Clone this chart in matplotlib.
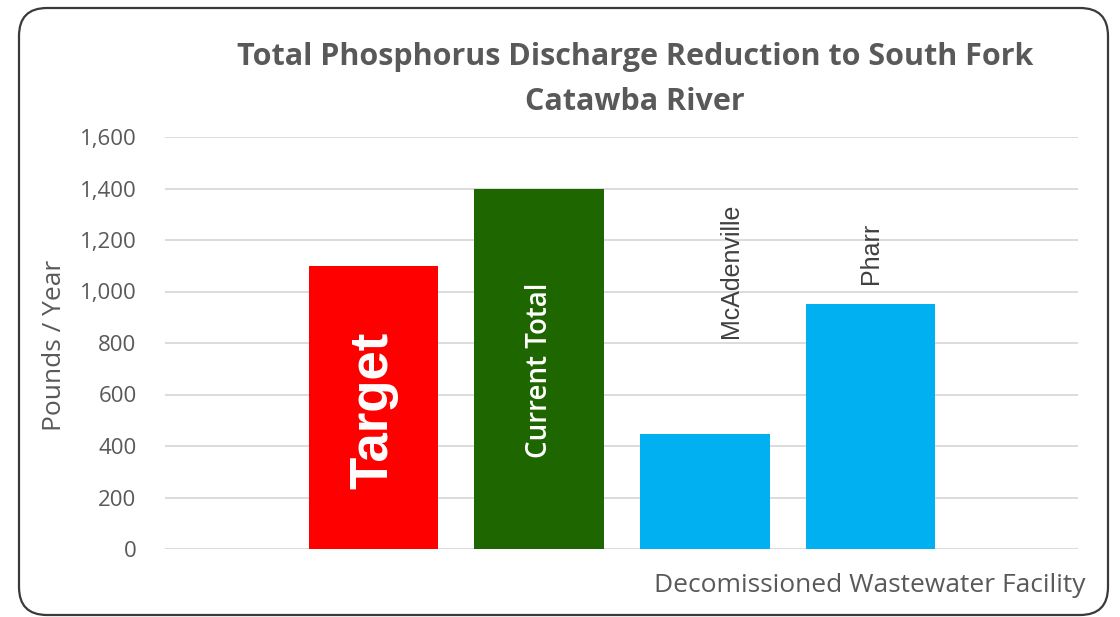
import matplotlib.pyplot as plt
from matplotlib.patches import FancyBboxPatch

# data
categories = ['Target', 'Current Total', 'McAdenville', 'Pharr']
values = [1100, 1400, 445, 952]
colors = ['#ff0000', '#1e6600', '#00b0f0', '#00b0f0']
label_y = [540, 695, 820, 1030]   # where each label sits (data units)

plt.rcParams['font.family'] = ['Open Sans', 'DejaVu Sans']
gray = '#595959'

fig = plt.figure(figsize=(11.2, 6.17), dpi=100)

# background axes in pixel units for the rounded frame
bg = fig.add_axes([0, 0, 1, 1], zorder=-1)
bg.set_xlim(0, 1120)
bg.set_ylim(617, 0)
bg.axis('off')
bg.add_patch(FancyBboxPatch((19, 8), 1089, 607,
                            boxstyle='round,pad=0,rounding_size=28',
                            facecolor='none', edgecolor='#3a3a3a', linewidth=1.6))

ax = fig.add_axes([165 / 1120, 68 / 617, (1078 - 165) / 1120, 412 / 617])
ax.patch.set_alpha(0)

x = [1, 2, 3, 4]
ax.bar(x, values, width=0.78, color=colors, zorder=2)
ax.set_xlim(-0.256, 5.25)
ax.set_ylim(0, 1600)
ax.set_yticks(range(0, 1601, 200))
ax.set_yticklabels([f'{v:,}' for v in range(0, 1601, 200)], color=gray, fontsize=16)
ax.set_xticks([])
ax.tick_params(axis='y', length=0, pad=20.5)
ax.grid(axis='y', color='#d9d9d9', linewidth=1.3, zorder=0)
for s in ax.spines.values():
    s.set_visible(False)

# bar labels
ax.text(x[0], label_y[0], categories[0], rotation=90, ha='center', va='center',
        color='white', fontsize=38, fontweight='bold', family='Liberation Sans')
ax.text(x[1], label_y[1], categories[1], rotation=90, ha='center', va='center',
        color='white', fontsize=20, fontweight='semibold')
ax.text(x[2] + 0.16, label_y[2], categories[2], rotation=90, ha='center', va='bottom',
        color='#404040', fontsize=18, family='Liberation Sans')
ax.text(x[3], label_y[3], categories[3], rotation=90, ha='center', va='bottom',
        color='#404040', fontsize=18, family='Liberation Sans')

fig.text(55 / 1120, 1 - 345 / 617, 'Pounds / Year', rotation=90, ha='center', va='center',
         color=gray, fontsize=19)
fig.text(1085 / 1120, 1 - 586 / 617, 'Decomissioned Wastewater Facility', ha='right',
         va='center', color=gray, fontsize=19)
fig.text(635 / 1120, 1 - 57 / 617, 'Total Phosphorus Discharge Reduction to South Fork',
         ha='center', va='center', color=gray, fontsize=22, fontweight='bold')
fig.text(635 / 1120, 1 - 102 / 617, 'Catawba River',
         ha='center', va='center', color=gray, fontsize=22, fontweight='bold')

fig.savefig('out.png', dpi=100)
